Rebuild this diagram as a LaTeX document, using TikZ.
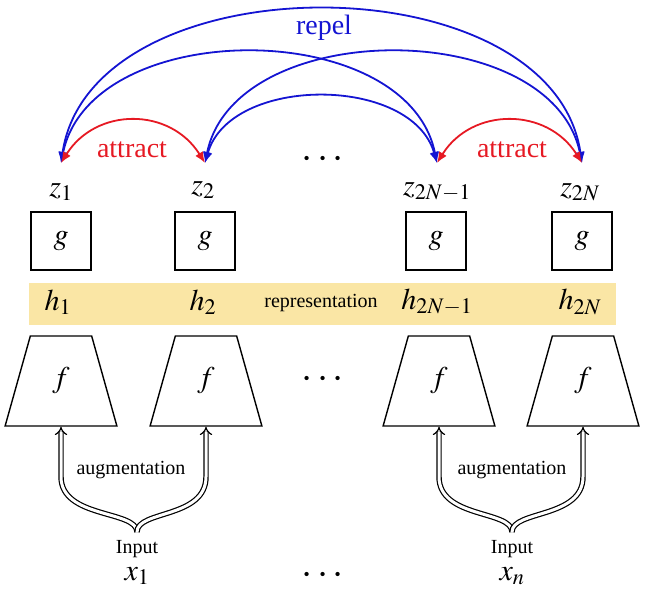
\documentclass[tikz,border=0pt]{standalone}
\usepackage{mathptmx}
\usepackage{fontspec}
\setmainfont{Liberation Serif}
\usetikzlibrary{arrows.meta,shapes.geometric,calc}
\definecolor{myblue}{RGB}{20,20,210}
\definecolor{myred}{RGB}{230,25,35}
\definecolor{bandcol}{RGB}{250,230,165}
\begin{document}
\begin{tikzpicture}[x=1pt,y=-1pt,
  big/.style={font=\fontsize{28}{30}\selectfont, inner sep=0pt},
  small/.style={font=\fontsize{20}{22}\selectfont, inner sep=0pt},
  mth/.style={font=\fontsize{30}{32}\selectfont, inner sep=0pt},
  gbox/.style={draw, line width=1.4pt, minimum width=60pt, minimum height=58pt, inner sep=0pt, font=\fontsize{30}{32}\selectfont},
  fbox/.style={draw, line width=1.4pt, trapezium, trapezium angle=75, trapezium stretches=true, minimum width=112pt, minimum height=90pt, inner sep=0pt, font=\fontsize{30}{32}\selectfont},
  blu/.style={draw=myblue, line width=1.8pt, {Latex[length=11pt,width=9pt]}-{Latex[length=11pt,width=9pt]}},
  rd/.style={draw=myred, line width=1.8pt, {Latex[length=11pt,width=9pt]}-{Latex[length=11pt,width=9pt]}},
  dbl/.style={double, double distance=3pt, line width=1.2pt, -{Implies[scale=1.6]}},
  dots/.style={font=\fontsize{40}{42}\selectfont, inner sep=0pt}
]
\useasboundingbox (0,0) rectangle (648,604);

% band
\node[fill=bandcol, minimum width=587pt, minimum height=42pt, inner sep=0pt] (band) at (322.5,304) {};

% arrow tip coordinates
\coordinate (t1) at (61,163);
\coordinate (t2) at (205,163);
\coordinate (t3) at (437,163);
\coordinate (t4) at (582,163);

% arcs
\draw[blu] (t1) .. controls +(30,-204) and +(-30,-204) .. (t4);
\draw[blu] (t1) .. controls +(30,-147) and +(-30,-147) .. (t3);
\draw[blu] (t2) .. controls +(30,-147) and +(-30,-147) .. (t4);
\draw[blu] (t2) .. controls +(25,-88) and +(-25,-88) .. (t3);
\draw[rd] (t1) .. controls +(35,-56) and +(-35,-56) .. (t2);
\draw[rd] (t3) .. controls +(35,-56) and +(-35,-56) .. (t4);

\node[big, text=myblue] (repel) at (324,28) {repel};
\node[big, text=myred] (att1) at (132,150) {attract};
\node[big, text=myred] (att2) at (512,150) {attract};
\node[dots] (dtop) at (323,160) {$\cdots$};

% z labels
\node[mth] (z1) at (61,192) {$z_1$};
\node[mth] (z2) at (203,190) {$z_2$};
\node[mth] (z3) at (437,192) {$z_{2N-1}$};
\node[mth] (z4) at (580,192) {$z_{2N}$};

% g boxes
\node[gbox] (g1) at (61,241) {$g$};
\node[gbox] (g2) at (205,241) {$g$};
\node[gbox] (g3) at (436,241) {$g$};
\node[gbox] (g4) at (582,241) {$g$};

% h labels
\node[mth] (h1) at (58,302) {$h_1$};
\node[mth] (h2) at (203,302) {$h_2$};
\node[small] (rep) at (321,303) {representation};
\node[mth] (h3) at (437,302) {$h_{2N-1}$};
\node[mth] (h4) at (580,302) {$h_{2N}$};

% f trapezia
\node[fbox] (f1) at (61,381) {$f$};
\node[fbox] (f2) at (206,381) {$f$};
\node[fbox] (f3) at (439,381) {$f$};
\node[fbox] (f4) at (583,381) {$f$};
\node[dots] (dmid) at (323,380) {$\cdots$};

% inputs
\coordinate (m1) at (137,532);
\coordinate (m2) at (512,532);
\node[small] (in1) at (137,549) {Input};
\node[small] (in2) at (512,549) {Input};
\node[mth] (x1) at (137,576) {$x_1$};
\node[mth] (xn) at (512,576) {$x_n$};
\node[dots] (dbot) at (323,576) {$\cdots$};

\node[small] (aug1) at (131,470) {augmentation};
\node[small] (aug2) at (512,470) {augmentation};

% double arrows
\coordinate (a1) at ($(f1.south)+(0,50)$);
\coordinate (a2) at ($(f2.south)+(0,50)$);
\coordinate (a3) at ($(f3.south)+(0,50)$);
\coordinate (a4) at ($(f4.south)+(0,50)$);
\draw[dbl] (m1) .. controls +(0,-22) and +(0,42) .. (a1) -- (f1.south);
\draw[dbl] (m1) .. controls +(0,-22) and +(0,42) .. (a2) -- (f2.south);
\draw[dbl] (m2) .. controls +(0,-22) and +(0,42) .. (a3) -- (f3.south);
\draw[dbl] (m2) .. controls +(0,-22) and +(0,42) .. (a4) -- (f4.south);
\end{tikzpicture}
\end{document}
